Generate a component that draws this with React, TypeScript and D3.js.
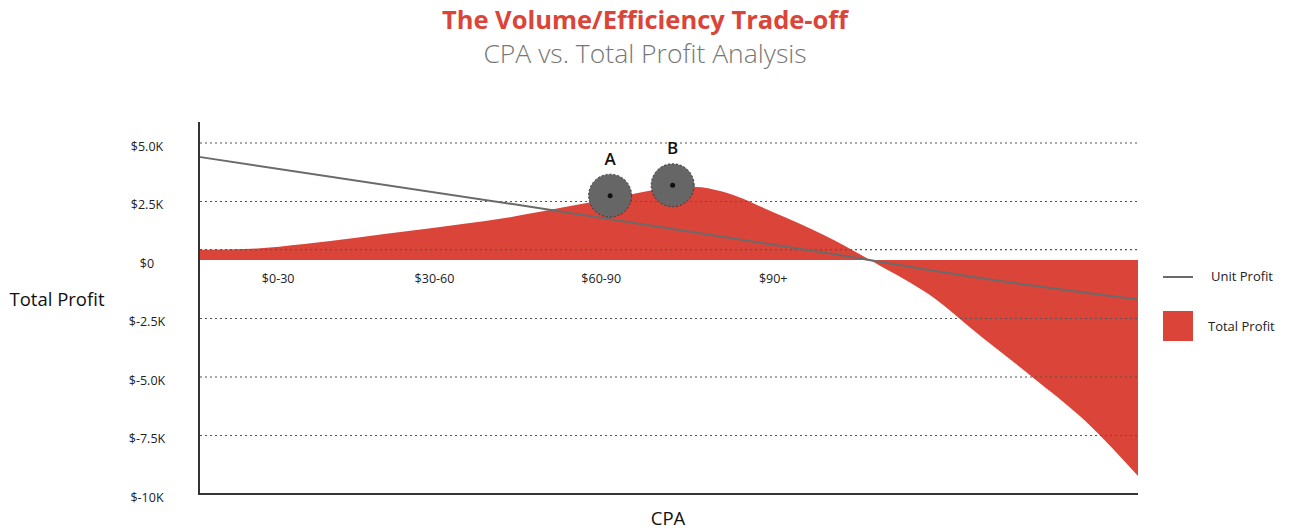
import * as d3 from "d3";
import { useEffect, useRef } from "react";

// CPA (x, dollars) sampled every 10
const cpa = [0, 10, 20, 30, 40, 50, 60, 70, 80, 90, 95, 100, 110, 120, 130, 140, 150, 160, 170, 180];
const totalProfit = [440, 480, 680, 955, 1235, 1530, 1850, 2260, 2680, 3080, 3120, 2940, 2045, 1035, -180, -1490, -3290, -5050, -6900, -9230];

const unitCpa = [0, 60, 120, 150, 180];
const unitProfit = [4400, 2390, 310, -780, -1690];

const yTicks = [5000, 2500, 0, -2500, -5000, -7500, -10000];
const yTickLabels = ["$5.0K", "$2.5K", "$0", "$-2.5K", "$-5.0K", "$-7.5K", "$-10K"];
// the reference draws its "zero" gridline a little above the baseline
const gridValues = [5000, 2500, 440, -2500, -5000, -7500];

const bucketLabels = ["$0-30", "$30-60", "$60-90", "$90+"];
const bucketCenters = [15, 45, 77, 110];

const markers = [
  { label: "A", cpa: 78.7, value: 2750 },
  { label: "B", cpa: 90.7, value: 3195 },
];

const RED = "#db4539";
const GRAY = "#6a6a6a";
const FONT = "'Open Sans', sans-serif";

export default function App() {
  const ref = useRef<SVGSVGElement | null>(null);
  const width = 1290;
  const height = 529;

  useEffect(() => {
    if (!ref.current) return;
    const margin = { left: 200, right: 152, top: 143, bottom: 35 };
    const x = d3.scaleLinear().domain([0, 180]).range([margin.left, width - margin.right]);
    const y = d3.scaleLinear().domain([-10000, 5000]).range([height - margin.bottom, margin.top]);

    const svg = d3.select(ref.current);
    svg.selectAll("*").remove();

    // title
    svg.append("text").attr("x", 645).attr("y", 29).attr("text-anchor", "middle")
      .style("font-family", FONT).style("font-size", "25.5px").style("font-weight", 700)
      .style("fill", RED).text("The Volume/Efficiency Trade-off");
    svg.append("text").attr("x", 645).attr("y", 63).attr("text-anchor", "middle")
      .style("font-family", FONT).style("font-size", "26.5px").style("font-weight", 300)
      .style("fill", "#777").text("CPA vs. Total Profit Analysis");

    const pts = cpa.map((c, i) => ({ c, v: totalProfit[i] }));
    const area = d3.area<(typeof pts)[0]>()
      .x((d) => x(d.c)).y0(y(0)).y1((d) => y(d.v)).curve(d3.curveMonotoneX);
    svg.append("path").datum(pts).attr("d", area).attr("fill", RED);

    // dotted gridlines
    svg.append("g").selectAll("line").data(gridValues).join("line")
      .attr("x1", x(0)).attr("x2", x(180)).attr("y1", (d) => y(d)).attr("y2", (d) => y(d))
      .attr("stroke", "#555").attr("stroke-width", 1.2).attr("stroke-dasharray", "2 3");

    // unit profit line
    const up = unitCpa.map((c, i) => ({ c, v: unitProfit[i] }));
    const line = d3.line<(typeof up)[0]>().x((d) => x(d.c)).y((d) => y(d.v)).curve(d3.curveMonotoneX);
    svg.append("path").datum(up).attr("d", line).attr("fill", "none").attr("stroke", GRAY).attr("stroke-width", 2);

    // axes
    svg.append("line").attr("x1", x(0) - 1).attr("x2", x(0) - 1).attr("y1", y(5000) - 21).attr("y2", y(-10000))
      .attr("stroke", "#333").attr("stroke-width", 2);
    svg.append("line").attr("x1", x(0) - 2).attr("x2", x(180)).attr("y1", y(-10000)).attr("y2", y(-10000))
      .attr("stroke", "#333").attr("stroke-width", 2);

    svg.append("g").selectAll("text").data(yTicks).join("text")
      .attr("x", 147).attr("y", (d) => y(d) + 3).attr("text-anchor", "middle").attr("dominant-baseline", "central")
      .style("font-family", FONT).style("font-size", "12.5px").style("fill", "#222")
      .text((_, i) => yTickLabels[i]);

    svg.append("g").selectAll("text").data(bucketLabels).join("text")
      .attr("x", (_, i) => x(bucketCenters[i])).attr("y", y(0) + 18).attr("text-anchor", "middle")
      .attr("dominant-baseline", "central")
      .style("font-family", FONT).style("font-size", "12.5px").style("fill", "#222")
      .text((d) => d);

    // markers
    const mk = svg.append("g").selectAll("g").data(markers).join("g")
      .attr("transform", (d) => `translate(${x(d.cpa)},${y(d.value)})`);
    mk.append("circle").attr("r", 21.5).attr("fill", "#666").attr("stroke", "#333")
      .attr("stroke-width", 1).attr("stroke-dasharray", "2 2");
    mk.append("circle").attr("r", 2.5).attr("fill", "#111");
    mk.append("text").attr("y", -31).attr("text-anchor", "middle")
      .style("font-family", FONT).style("font-size", "17px").style("font-weight", 600).style("fill", "#111")
      .text((d) => d.label);

    // axis titles
    svg.append("text").attr("x", 57).attr("y", 298).attr("text-anchor", "middle").attr("dominant-baseline", "central")
      .style("font-family", FONT).style("font-size", "18.5px").style("fill", "#111").text("Total Profit");
    svg.append("text").attr("x", 668).attr("y", 525).attr("text-anchor", "middle")
      .style("font-family", FONT).style("font-size", "18.5px").style("fill", "#111").text("CPA");

    // legend
    const leg = svg.append("g").attr("transform", "translate(1163,0)");
    leg.append("line").attr("x1", 0).attr("x2", 30).attr("y1", 277).attr("y2", 277).attr("stroke", GRAY).attr("stroke-width", 2);
    leg.append("text").attr("x", 48).attr("y", 276).attr("dominant-baseline", "central")
      .style("font-family", FONT).style("font-size", "13px").style("fill", "#222").text("Unit Profit");
    leg.append("rect").attr("x", 0).attr("y", 311).attr("width", 30).attr("height", 30).attr("fill", RED);
    leg.append("text").attr("x", 45).attr("y", 326).attr("dominant-baseline", "central")
      .style("font-family", FONT).style("font-size", "13px").style("fill", "#222").text("Total Profit");
  }, []);

  return (
    <svg ref={ref} width={width} height={height} style={{ position: "absolute", left: 0, top: 0, background: "#fff" }} />
  );
}
